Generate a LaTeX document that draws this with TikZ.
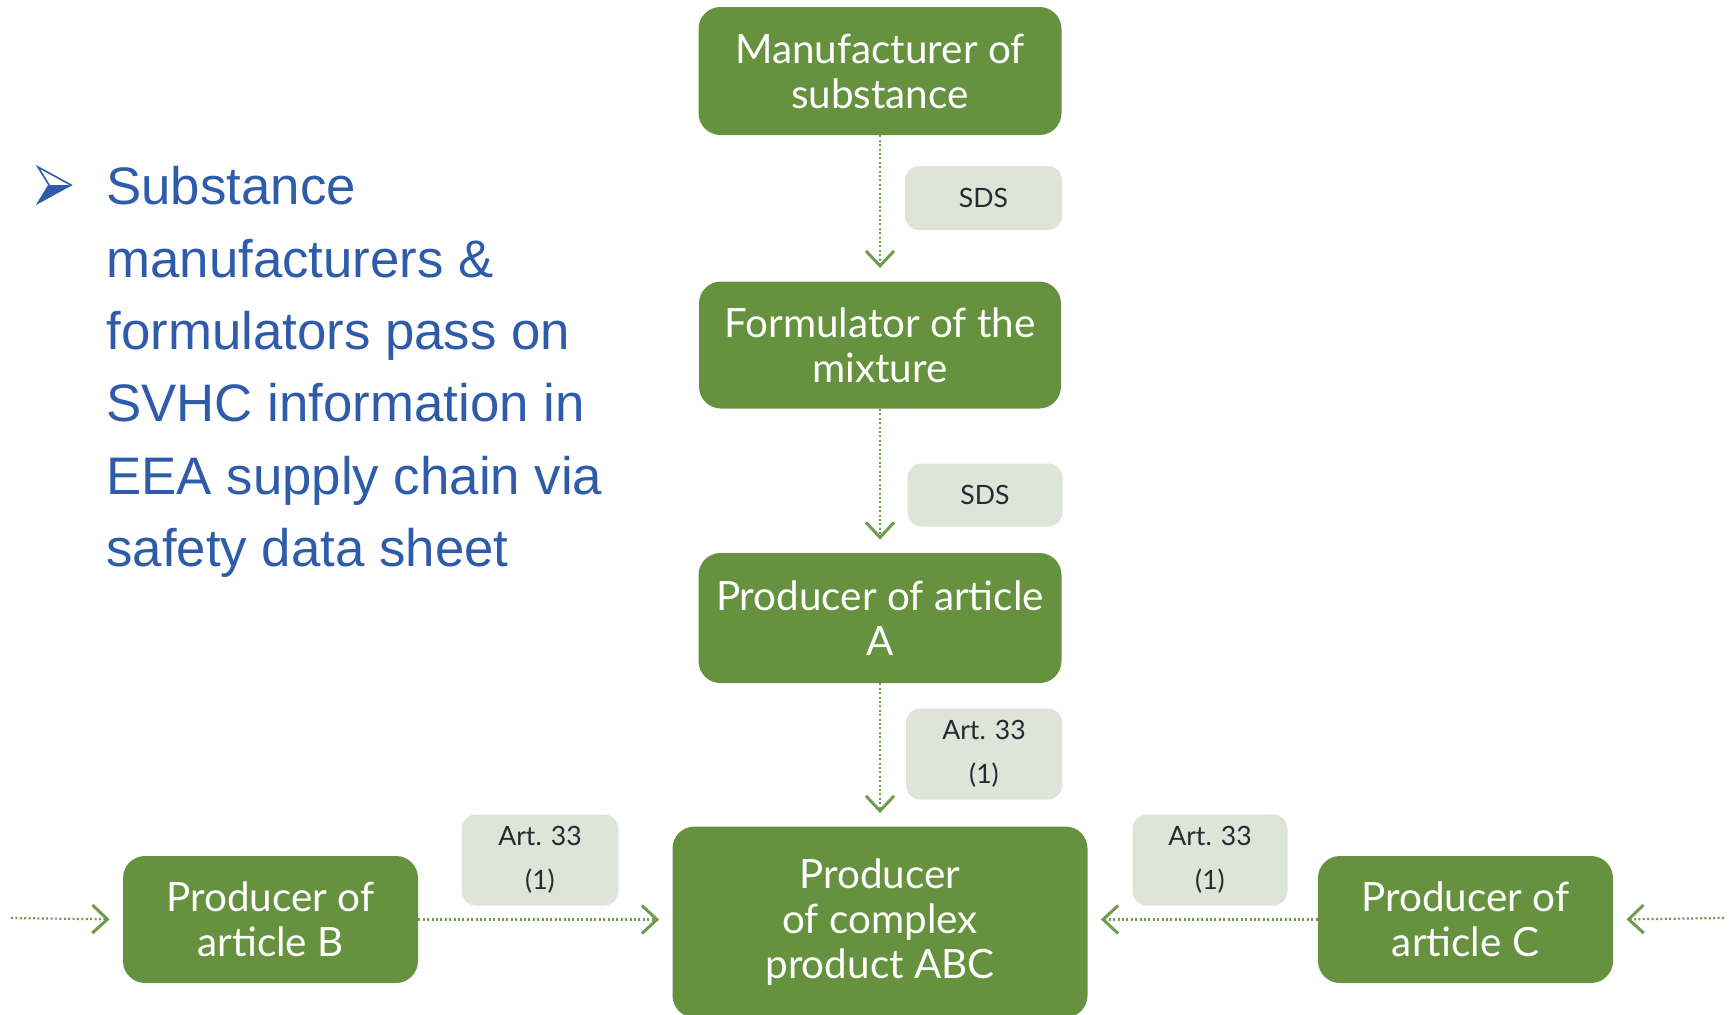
\documentclass[tikz,border=0pt]{standalone}
\usepackage{fontspec}
\setmainfont{Lato}
\newfontfamily\notefont{Liberation Sans}
\usetikzlibrary{arrows.meta}
\definecolor{boxgreen}{HTML}{66923F}
\definecolor{taggray}{HTML}{DFE4D8}
\definecolor{flowgreen}{HTML}{6F9B4C}
\definecolor{noteblue}{HTML}{2F5CAA}
\definecolor{tagtext}{HTML}{262A33}

\begin{document}
\begin{tikzpicture}[x=0.5pt,y=-0.5pt]
    \tikzstyle{party}=[rectangle, rounded corners=11pt, fill=boxgreen, text=white, align=center, inner sep=0pt, font=\fontsize{20.2}{22.5}\selectfont]
    \tikzstyle{tag}=[rectangle, rounded corners=7pt, fill=taggray, text=tagtext, align=center, inner sep=0pt, font=\fontsize{13.3}{22}\selectfont]
    \tikzstyle{flow}=[flowgreen, line width=1.1pt, dash pattern=on 1pt off 1.2pt, shorten >=6.5pt, -{Straight Barb[length=7.5pt,width=14pt,line width=1.5pt]}]

    \useasboundingbox (0,0) rectangle (1729,1014);

    % supply chain
    \node[party, minimum width=181.5pt, minimum height=64pt] (manu) at (880,71) {Manufacturer of\\substance};
    \node[party, minimum width=181pt, minimum height=63.5pt] (form) at (880,345) {Formulator of the\\mixture};
    \node[party, minimum width=181.5pt, minimum height=65pt] (prodA) at (880,618) {Producer of article\\A};
    \node[party, minimum width=207.5pt, minimum height=95.5pt] (abc) at (880,922) {Producer\\of complex\\product ABC};
    \node[party, minimum width=147.5pt, minimum height=63.5pt] (prodB) at (270.5,919.5) {Producer of\\article B};
    \node[party, minimum width=147.5pt, minimum height=63.5pt] (prodC) at (1465.5,919.5) {Producer of\\article C};

    \node[tag, minimum width=78.5pt, minimum height=32pt] (sds1) at (983.5,198) {SDS};
    \node[tag, minimum width=77.5pt, minimum height=31.5pt] (sds2) at (985,495) {SDS};
    \node[tag, minimum width=78pt, minimum height=45.5pt] (artA) at (984,754) {Art. 33\\(1)};
    \node[tag, minimum width=78.5pt, minimum height=45.5pt] (artB) at (540,860) {Art. 33\\(1)};
    \node[tag, minimum width=77.5pt, minimum height=45.5pt] (artC) at (1210,860) {Art. 33\\(1)};

    \coordinate (inB) at (11,918);
    \coordinate (inC) at (1724,918);

    \draw[flow] (manu) -- (form);
    \draw[flow] (form) -- (prodA);
    \draw[flow] (prodA) -- (abc);
    \draw[flow] (inB) -- (prodB.west);
    \draw[flow] (prodB.east) -- (abc.west |- prodB.east);
    \draw[flow] (prodC.west) -- (abc.east |- prodC.west);
    \draw[flow] (inC) -- (prodC.east);

    % bullet text
    \fill[noteblue] (38,203) -- (71,185) -- (49,185) -- cycle;
    \draw[noteblue, line width=0.8pt] (38,167) -- (71,185) -- (38,203) -- (49,185) -- cycle;
    \node[anchor=north west, inner sep=0pt, text=noteblue, align=left, font=\notefont\fontsize{26.4}{36.2}\selectfont] (note) at (106,166) {Substance\\manufacturers \&\\formulators pass on\\SVHC information in\\EEA supply chain via\\safety data sheet};
\end{tikzpicture}
\end{document}
